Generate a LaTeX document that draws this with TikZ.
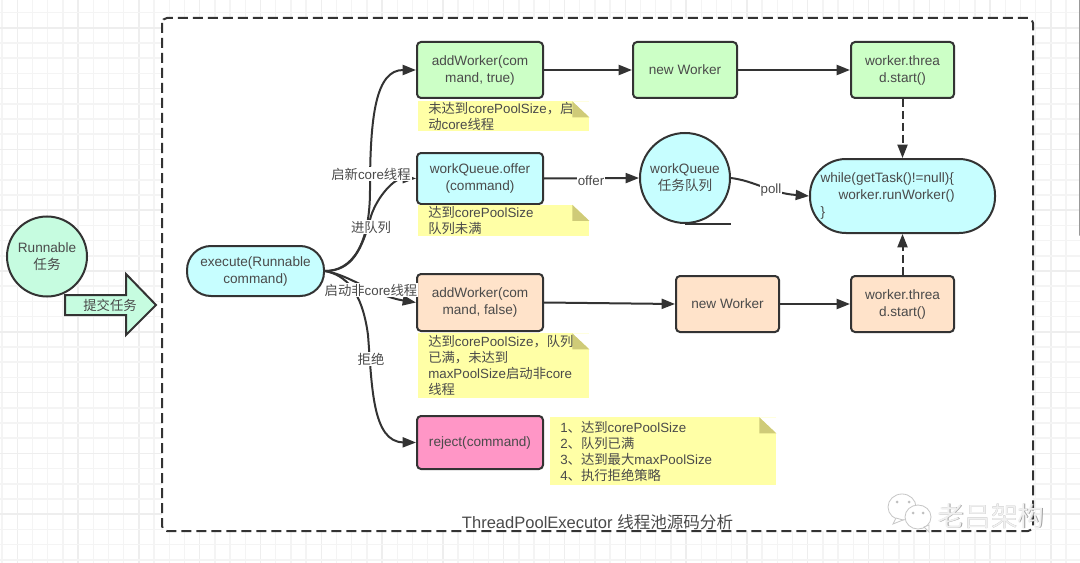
\documentclass[tikz,border=0pt]{standalone}
\usepackage{fontspec}
\setmainfont{Liberation Sans}
\newfontfamily\cjkfont{Noto Sans CJK SC}
\newcommand{\zh}[1]{{\cjkfont #1}}
\usetikzlibrary{arrows.meta,calc}
\newdimen\px \px=0.75pt
\definecolor{ink}{HTML}{333333}
\definecolor{txt}{HTML}{4A4A4A}
\definecolor{mint}{HTML}{C6FCE0}
\definecolor{leaf}{HTML}{CCFFC6}
\definecolor{aqua}{HTML}{C7FEFF}
\definecolor{peach}{HTML}{FFE3CA}
\definecolor{rose}{HTML}{FF96C6}
\definecolor{noteyel}{HTML}{FFFFA6}
\definecolor{notefold}{HTML}{CFCB78}
\definecolor{gridminor}{HTML}{F4F4F4}
\definecolor{gridmajor}{HTML}{EEEEEE}
\tikzset{
  x=0.75pt,y=-0.75pt,
  every node/.style={text=txt,font=\fontsize{10}{12}\selectfont,align=center,inner sep=0pt},
  boxfont/.style={font=\fontsize{10.2}{12.75}\selectfont},
  proc/.style={boxfont,draw=ink,line width=2\px,rounded corners=4\px,minimum width=#1},
  proc/.default=126\px,
  roundbox/.style={boxfont,draw=ink,line width=2\px},
  ball/.style={boxfont,draw=ink,line width=2\px,circle,minimum size=#1},
  notebox/.style={fill=noteyel,align=left,anchor=north west,inner xsep=10\px,
    path picture={
      \fill[white] (path picture bounding box.north east) -- ++(-17,0) -- ++(17,16) -- cycle;
      \fill[notefold] (path picture bounding box.north east) ++(-17,0) -- ++(17,16) -- ++(-17,0) -- cycle;
    }},
  link/.style={draw=ink,line width=2\px,-{Triangle[length=10pt,width=7.5pt]}},
  dashlink/.style={link,dash pattern=on 6pt off 3pt},
  tag/.style={fill=white,inner xsep=1\px,inner ysep=1\px},
}
\begin{document}
\begin{tikzpicture}
\useasboundingbox (0,0) rectangle (1080,563);
\fill[white] (0,0) rectangle (1080,563);
% squared paper behind the frame
\foreach \k in {0,...,70}{
  \pgfmathsetmacro{\gx}{2.1+15.2*\k}
  \pgfmathtruncatemacro{\mj}{mod(\k+3,4)}
  \ifnum\mj=0 \draw[gridmajor,line width=1.5\px] (\gx,0) -- (\gx,563);
  \else \draw[gridminor,line width=1.5\px] (\gx,0) -- (\gx,563); \fi
}
\foreach \k in {0,...,37}{
  \pgfmathsetmacro{\gy}{-2.6+15.2*\k}
  \pgfmathtruncatemacro{\mj}{mod(\k+2,4)}
  \ifnum\mj=0 \draw[gridmajor,line width=1.5\px] (0,\gy) -- (1080,\gy);
  \else \draw[gridminor,line width=1.5\px] (0,\gy) -- (1080,\gy); \fi
}
\draw[gray!80,line width=1.6\px,line cap=round] (1079.5,0) -- (1079.5,235);

% executor frame
\draw[fill=white,draw=ink,line width=2\px,rounded corners=5\px,dash pattern=on 7.5pt off 3.75pt]
  (162,18) rectangle (1033,531);

% submitted task
\node[ball=80\px,fill=mint] (task) at (47,256.5) {Runnable\\\zh{任务}};
\draw[draw=ink,line width=2\px,fill=mint,line join=miter]
  (65,295) -- (126,295) -- (126,274) -- (156,305) -- (126,335) -- (126,315) -- (65,315) -- cycle;
\node (submit) at (110,305) {\zh{提交任务}};

% process nodes
\node[roundbox,fill=aqua,rounded corners=24\px,minimum width=137\px,minimum height=50\px] (exec) at (255.5,271) {execute(Runnable\\command)};

\node[proc,fill=leaf,minimum height=56\px] (addcore) at (480,70) {addWorker(com\\mand, true)};
\node[proc=104\px,fill=leaf,minimum height=56\px] (newcore) at (685,70) {new Worker};
\node[proc=103\px,fill=leaf,minimum height=56\px] (startcore) at (902.5,70) {worker.threa\\d.start()};

\node[proc,fill=aqua,minimum height=51\px] (offer) at (480,178.5) {workQueue.offer\\(command)};
\node[ball=90\px,fill=aqua] (queue) at (685,178) {workQueue\\\zh{任务队列}};
\node[roundbox,fill=aqua,rounded corners=36\px,minimum width=185\px,minimum height=74\px,align=left,text width=164\px] (loop) at (902.5,196)
  {while(getTask()!=null)\{\\\hspace*{18\px}worker.runWorker()\\\}};

\node[proc,fill=peach,minimum height=57\px] (addmax) at (480,302.5) {addWorker(com\\mand, false)};
\node[proc=103\px,fill=peach,minimum height=56\px] (newmax) at (727.5,304) {new Worker};
\node[proc=103\px,fill=peach,minimum height=56\px] (startmax) at (902.5,304) {worker.threa\\d.start()};

\node[proc,fill=rose,minimum height=53\px] (reject) at (480,442.5) {reject(command)};

% yellow notes
\node[notebox,minimum width=171\px,minimum height=30\px,text width=151\px] (note1) at (418,101)
  {\zh{未达到}corePoolSize\zh{，启}\\\zh{动}core\zh{线程}};
\node[notebox,minimum width=171\px,minimum height=31\px,text width=151\px] (note2) at (418,204.5)
  {\zh{达到}corePoolSize\\\zh{队列未满}};
\node[notebox,minimum width=171\px,minimum height=65\px,text width=151\px] (note3) at (418,333)
  {\zh{达到}corePoolSize\zh{，队列}\\\zh{已满，未达到}\\maxPoolSize\zh{启动非}core\\\zh{线程}};
\node[notebox,minimum width=226\px,minimum height=68\px,text width=206\px] (note4) at (550,417)
  {1\zh{、}\zh{达到}corePoolSize\\2\zh{、队列已满}\\3\zh{、达到最大}maxPoolSize\\4\zh{、执行拒绝策略}};

% branches leaving execute
\draw[link] (exec.east) .. controls (352,271) and (370,245) .. (370,190)
  .. controls (370,115) and (376,70) .. (addcore.west);
\draw[link] (exec.east) .. controls (352,271) and (362,250) .. (371,216)
  .. controls (378,195) and (395,178) .. (offer.west);
\draw[link] (exec.east) .. controls (350,275) and (375,296) .. (addmax.west);
\draw[link] (exec.east) .. controls (345,275) and (362,290) .. (368,335)
  .. controls (372,385) and (372,442) .. (reject.west);

% horizontal flow
\draw[link] (addcore.east) -- (newcore.west);
\draw[link] (newcore.east) -- (startcore.west);
\draw[link] (offer.east) -- (queue.west);
\draw[link] (queue.east) .. controls (755,181) and (770,193) .. (loop.west);
\draw[link] (addmax.east) -- (newmax.west);
\draw[link] (newmax.east) -- (startmax.west);
\draw[dashlink] (startcore.south) -- (loop.north);
\draw[dashlink] (startmax.north) -- (loop.south);

% tail of the queue circle
\draw[draw=ink,line width=2\px] (queue.south) -- ++(46,0);

% connector labels
\node[tag] (lbcore) at (371,174) {\zh{启新}core\zh{线程}};
\node[tag] (lbqueue) at (371,227) {\zh{进队列}};
\node[tag] (lbmax) at (371,290) {\zh{启动非}core\zh{线程}};
\node[tag] (lbreject) at (371,359) {\zh{拒绝}};
\node[tag] (lboffer) at (591,181) {offer};
\node[tag] (lbpoll) at (771,190) {poll};

% frame title
\node[font=\fontsize{12.4}{15}\selectfont] (title) at (597.5,522) {ThreadPoolExecutor \zh{线程池源码分析}};

% account mark in the corner
\draw[gray!45,fill=white,line width=0.8\px] (902,507) ellipse (14 and 13);
\draw[gray!45,fill=white,line width=0.8\px] (896,518) -- (893,524) -- (903,520) -- cycle;
\draw[gray!45,fill=white,line width=0.8\px] (918,517) ellipse (13 and 12);
\draw[gray!45,fill=white,line width=0.8\px] (924,527) -- (929,532) -- (929,525) -- cycle;
\fill[gray!50] (897,502) circle (1.5) (909,502) circle (1.5) (913,513) circle (1.5) (923,513) circle (1.5);
\node[text=gray!75,font=\cjkfont\fontsize{20}{24}\selectfont] (markshade) at (991.6,516.6) {老吕架构};
\node[text=white!94!black,font=\cjkfont\fontsize{20}{24}\selectfont] (markface) at (991,516) {老吕架构};
\end{tikzpicture}
\end{document}
